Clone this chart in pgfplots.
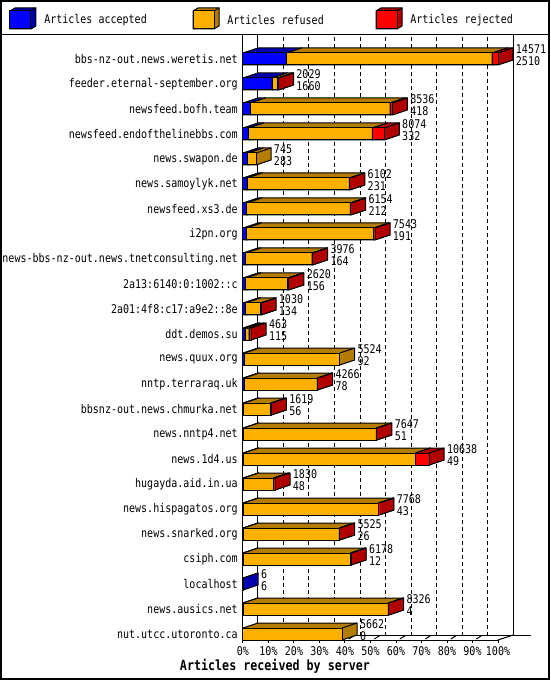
\documentclass[border=0pt]{standalone}
\usepackage{pgfplots}
\pgfplotsset{compat=1.18}
\usepackage{pgfplotstable}
\usepackage{fontspec}
\setmainfont{DejaVu Sans Mono}
\newfontfamily\monofont{DejaVu Sans Mono}[FakeStretch=0.835]
\newcommand\lab{\monofont\fontsize{9}{11}\selectfont}
\newcommand\blab{\monofont\fontsize{10.5}{12}\selectfont\bfseries}

\definecolor{accblue}{RGB}{0,0,255}
\definecolor{accdark}{RGB}{0,0,176}
\definecolor{refor}{RGB}{255,176,0}
\definecolor{refdark}{RGB}{180,125,0}
\definecolor{rejred}{RGB}{255,0,0}
\definecolor{rejdark}{RGB}{176,0,0}

% total = articles offered, acc = accepted, rej = rejected (refused = rest)
\pgfplotstableread{
name total acc rej
bbs-nz-out.news.weretis.net 14571 2510 330
feeder.eternal-september.org 2029 1660 30
newsfeed.bofh.team 8536 418 130
newsfeed.endofthelinebbs.com 8074 332 680
news.swapon.de 745 283 0
news.samoylyk.net 6102 231 25
newsfeed.xs3.de 6154 212 25
i2pn.org 7543 191 70
news-bbs-nz-out.news.tnetconsulting.net 3976 164 25
2a13:6140:0:1002::c 2620 156 50
2a01:4f8:c17:a9e2::8e 1030 134 20
ddt.demos.su 463 115 120
news.quux.org 5524 92 0
nntp.terraraq.uk 4266 78 20
bbsnz-out.news.chmurka.net 1619 56 20
news.nntp4.net 7647 51 20
news.1d4.us 10638 49 780
hugayda.aid.in.ua 1830 48 80
news.hispagatos.org 7768 43 20
news.snarked.org 5525 26 20
csiph.com 6178 12 20
localhost 6 6 0
news.ausics.net 8326 4 20
nut.utcc.utoronto.ca 5662 0 0
}\srv

% one 3D bar segment: row, from, to (percent), front colour, shade
\newcommand\seg[5]{%
  \pgfmathsetmacro\ya{#1+0.24}%
  \pgfmathsetmacro\yb{#1-0.24}%
  \pgfmathsetmacro\yc{#1-0.24-0.2}%
  \pgfmathsetmacro\yd{#1+0.24-0.2}%
  \pgfmathsetmacro\xa{#2}%
  \pgfmathsetmacro\xb{#3}%
  \pgfmathsetmacro\xc{#2+5.88}%
  \pgfmathsetmacro\xd{#3+5.88}%
  \edef\tmp{%
    \noexpand\addplot[fill=#5, draw=black, line width=0.75pt] coordinates {(\xa,\ya) (\xa,\yb) (\xc,\yc) (\xd,\yc) (\xd,\yd) (\xb,\ya)} -- cycle;
    \noexpand\addplot[draw=black, line width=0.75pt] coordinates {(\xb,\yb) (\xd,\yc)};
    \noexpand\addplot[fill=#4, draw=black, line width=0.75pt] coordinates {(\xa,\ya) (\xa,\yb) (\xb,\yb) (\xb,\ya)} -- cycle;
  }\tmp}

\begin{document}
\begin{tikzpicture}
\begin{axis}[
  scale only axis, width=191.25pt, height=453.75pt,
  xmin=0, xmax=100, ymin=-0.96, ymax=23.24, y dir=reverse,
  clip=false, no markers,
  axis x line*=bottom, axis y line*=left,
  axis line style={-, line width=0.75pt, black},
  xtick={0,10,...,100},
  xticklabels={0\%,10\%,20\%,30\%,40\%,50\%,60\%,70\%,80\%,90\%,100\%},
  ytick={0,...,23}, yticklabels from table={\srv}{name},
  tick align=outside, major tick length=2.25pt,
  ytick style={draw=none},
  xtick style={line width=0.75pt, black},
  xmajorgrids,
  major grid style={line width=0.75pt, black, dash pattern=on 3pt off 2.25pt, xshift=11.25pt, yshift=3.75pt},
  extra x ticks={0,100}, extra x tick labels={},
  extra x tick style={major grid style={solid}},
  every tick label/.append style={font=\lab, text=black},
  yticklabel style={inner sep=0pt, xshift=-1.5pt},
  xticklabel style={inner sep=0pt, yshift=-2.5pt},
]
% floor
\draw[line width=0.75pt] (axis cs:5.88,23.04) -- (axis cs:113.1,23.04);
\draw[line width=0.75pt] (axis cs:100,23.24) -- (axis cs:105.88,23.04);
\pgfplotsinvokeforeach{10,20,...,90}{
  \draw[line width=0.75pt] (axis cs:#1+1.5,23.2) -- (axis cs:#1+3.5,23.07);
}

\pgfplotsinvokeforeach{0,...,23}{
  \pgfplotstablegetelem{#1}{total}\of\srv \let\T\pgfplotsretval
  \pgfplotstablegetelem{#1}{acc}\of\srv \let\A\pgfplotsretval
  \pgfplotstablegetelem{#1}{rej}\of\srv \let\R\pgfplotsretval
  \pgfmathsetmacro\pA{\A/145.71}
  \pgfmathsetmacro\pF{(\T-\R)/145.71}
  \pgfmathsetmacro\pT{\T/145.71}
  \ifdim\A pt>0pt \seg{#1}{0}{\pA}{accblue}{accdark}\fi
  \ifdim\pF pt>\pA pt \seg{#1}{\pA}{\pF}{refor}{refdark}\fi
  \ifdim\R pt>0pt \seg{#1}{\pF}{\pT}{rejred}{rejdark}\fi
}

\addplot[draw=none, nodes near coords, point meta=explicit symbolic,
  nodes near coords style={anchor=west, inner sep=0pt, xshift=13.25pt, yshift=7.1pt, font=\lab, text=black}]
  table[x expr=\thisrow{total}/145.71, y expr=\coordindex, meta=total] {\srv};
\addplot[draw=none, nodes near coords, point meta=explicit symbolic,
  nodes near coords style={anchor=west, inner sep=0pt, xshift=13.25pt, yshift=-1.5pt, font=\lab, text=black}]
  table[x expr=\thisrow{total}/145.71, y expr=\coordindex, meta=acc] {\srv};
\end{axis}

\begin{scope}[shift={(current axis.south west)}, x=0.75pt, y=-0.75pt, shift={(-243,-640)}]
  \fill[white] (0,0) rectangle (550,34.5);
  \draw[line width=0.75pt] (0,34.5) -- (550,34.5);
  \foreach \lx/\lc/\ld/\lt in {10/accblue/accdark/Articles accepted, 193/refor/refdark/Articles refused, 376/rejred/rejdark/Articles rejected}{
    \filldraw[fill=\ld, line width=0.75pt] (\lx,29) -- (\lx,11) -- (\lx+5,8) -- (\lx+26,8) -- (\lx+26,26) -- (\lx+21,29) -- cycle;
    \draw[line width=0.75pt] (\lx+21,11) -- (\lx+26,8);
    \filldraw[fill=\lc, line width=0.75pt] (\lx,11) rectangle (\lx+21,29);
    \node[anchor=west, inner sep=0pt, font=\lab] at (\lx+34,20) {\lt};
  }
  \node[font=\blab, inner sep=0pt] at (275,666) {Articles received by server};
  \draw[line width=1.5pt] (1,1) rectangle (549,679);
  \pgfresetboundingbox
  \path (0,0) rectangle (550,680);
\end{scope}
\end{tikzpicture}
\end{document}
